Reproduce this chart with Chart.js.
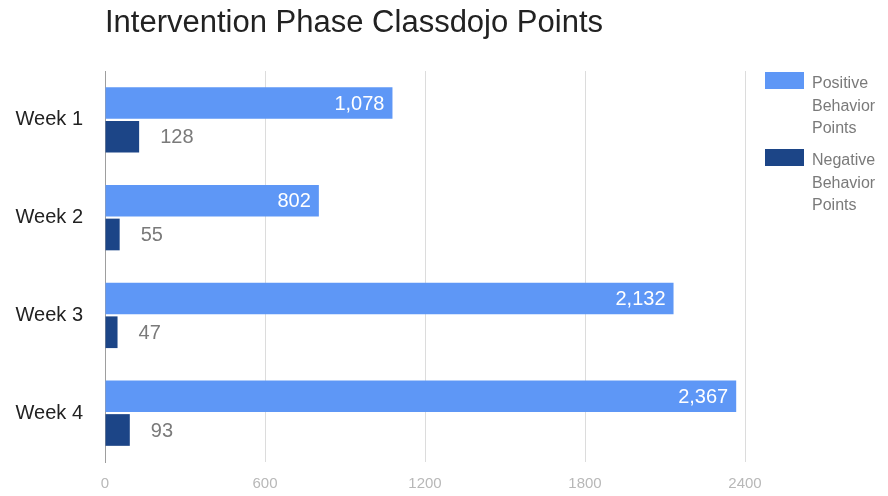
<!DOCTYPE html>
<html>
<head>
<meta charset="utf-8">
<script src="https://cdn.jsdelivr.net/npm/chart.js@4/dist/chart.umd.min.js"></script>
<style>
	html, body { margin: 0; padding: 0; background: #fff; overflow: hidden; }
	#wrap { width: 888px; height: 496px; position: relative; }
	canvas { display: block; }
</style>
</head>
<body>
<div id="wrap"><canvas id="chart"></canvas></div>
<script>
var title_text = "Intervention Phase Classdojo Points";
var week_labels = ["Week 1", "Week 2", "Week 3", "Week 4"];
var positive_points = [1078, 802, 2132, 2367];
var negative_points = [128, 55, 47, 93];
var series_names = [["Positive", "Behavior", "Points"], ["Negative", "Behavior", "Points"]];
var series_colors = ["#5e97f6", "#1c4587"];
var axis_ticks = [0, 600, 1200, 1800, 2400];

var FONT = "Arial, 'Liberation Sans', sans-serif";

/**
 * Title, value labels and the wrapped legend are drawn by hand,
 * Chart.js does the bars and axes.
 */
var extras = {
	id: "extras",
	afterDraw: function (chart) {
		var ctx = chart.ctx;
		var area = chart.chartArea;
		ctx.save();

		// title
		ctx.font = "31px " + FONT;
		ctx.fillStyle = "#222";
		ctx.textAlign = "left";
		ctx.textBaseline = "alphabetic";
		ctx.fillText(title_text, area.left, 32);

		// value labels
		ctx.font = "20px " + FONT;
		ctx.textBaseline = "middle";
		chart.data.datasets.forEach(function (ds, i) {
			var meta = chart.getDatasetMeta(i);
			meta.data.forEach(function (bar, j) {
				var txt = ds.data[j].toLocaleString("en-US");
				if (i === 0) {
					ctx.fillStyle = "#fff";
					ctx.textAlign = "right";
					ctx.fillText(txt, bar.x - 8, bar.y + 1);
				} else {
					ctx.fillStyle = "#7a7a7a";
					ctx.textAlign = "left";
					ctx.fillText(txt, bar.x + 21, bar.y + 1);
				}
			});
		});

		// legend
		var lx = 765, ly = [72, 149];
		ctx.font = "16px " + FONT;
		ctx.textAlign = "left";
		series_names.forEach(function (lines, i) {
			ctx.fillStyle = series_colors[i];
			ctx.fillRect(lx, ly[i], 39, 17);
			ctx.fillStyle = "#7a7a7a";
			lines.forEach(function (line, k) {
				ctx.fillText(line, lx + 47, ly[i] + 12 + k * 22.5);
			});
		});

		ctx.restore();
	}
};

new Chart(document.getElementById("chart"), {
	type: "bar",
	data: {
		labels: week_labels,
		datasets: [
			{
				label: series_names[0].join(" "),
				data: positive_points,
				backgroundColor: series_colors[0],
				categoryPercentage: 0.69,
				barPercentage: 0.94
			},
			{
				label: series_names[1].join(" "),
				data: negative_points,
				backgroundColor: series_colors[1],
				categoryPercentage: 0.69,
				barPercentage: 0.94
			}
		]
	},
	options: {
		indexAxis: "y",
		responsive: true,
		maintainAspectRatio: false,
		animation: false,
		layout: { padding: { top: 71, right: 143, bottom: 0, left: 0 } },
		plugins: {
			legend: { display: false },
			title: { display: false },
			tooltip: { enabled: false }
		},
		scales: {
			x: {
				min: 0,
				max: 2400,
				afterBuildTicks: function (scale) {
					scale.ticks = axis_ticks.map(function (v) { return { value: v }; });
				},
				afterFit: function (scale) { scale.height = 29; },
				grid: {
					drawTicks: false,
					color: function (c) { return c.tick.value === 0 ? "rgba(0,0,0,0)" : "#dcdcdc"; }
				},
				border: { display: false },
				ticks: {
					padding: 13,
					color: "#b8b8b8",
					callback: function (v) { return String(v); },
					font: { family: FONT, size: 15 }
				}
			},
			y: {
				afterFit: function (scale) { scale.width = 105; },
				grid: { display: false, drawTicks: false },
				border: { display: true, color: "#9e9e9e", width: 1 },
				ticks: {
					padding: 22,
					color: "#222",
					font: { family: FONT, size: 20 }
				}
			}
		}
	},
	plugins: [extras]
});
</script>
</body>
</html>
